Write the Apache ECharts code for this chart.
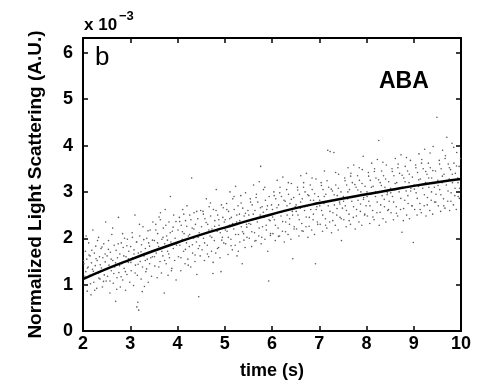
<!DOCTYPE html>
<html>
<head>
<meta charset="utf-8">
<script src="https://cdn.jsdelivr.net/npm/echarts@6/dist/echarts.min.js"></script>
<style>html,body{margin:0;padding:0;background:#fff}#c{width:477px;height:385px}</style>
</head>
<body>
<div id="c"></div>
<script>
// x tick labels (time, s) and y tick labels (x 10^-3)
const xTicks = [2, 3, 4, 5, 6, 7, 8, 9, 10];
const yTicks = [0, 1, 2, 3, 4, 5, 6];

// fitted curve
const fitTime = [2, 2.5, 3, 3.5, 4, 4.5, 5, 5.5, 6, 6.5, 7, 7.5, 8, 8.5, 9, 9.5, 10];
const fitValue = [1.12, 1.34, 1.54, 1.73, 1.91, 2.08, 2.23, 2.38, 2.52, 2.65, 2.76, 2.86, 2.95, 3.04, 3.13, 3.21, 3.28];

const measured = [
[2.02,1.45],[2.03,0.98],[2.05,1.72],[2.06,1.28],[2.08,1.55],[2.09,0.86],[2.11,1.38],[2.12,1.9],[2.14,1.2],[2.15,1.62],[2.17,0.78],[2.18,1.47],[2.2,1.33],[2.21,2.18],[2.23,1.05],[2.24,1.68],[2.26,1.41],[2.27,1.83],[2.29,0.92],[2.3,1.52],[2.32,1.25],[2.33,2.02],[2.35,1.6],[2.36,1.12],[2.38,1.78],[2.39,1.36],[2.41,0.95],[2.42,1.58],[2.44,1.88],[2.45,1.21],[2.47,1.49],[2.48,2.35],[2.49,1.08],
[2.51,1.62],[2.52,1.18],[2.54,1.95],[2.55,1.42],[2.57,0.82],[2.58,1.7],[2.6,1.3],[2.61,2.08],[2.63,1.52],[2.64,1.03],[2.66,1.85],[2.67,1.38],[2.69,0.64],[2.7,1.74],[2.72,1.15],[2.73,1.58],[2.75,2.45],[2.76,1.26],[2.78,1.66],[2.79,0.95],[2.81,1.9],[2.82,1.45],[2.84,1.1],[2.85,1.8],[2.87,1.35],[2.88,2.0],[2.9,0.88],[2.91,1.6],[2.93,1.22],[2.94,1.98],[2.96,1.48],[2.97,1.72],[2.99,1.05],
[3.01,1.82],[3.02,1.3],[3.04,2.12],[3.05,1.58],[3.07,0.98],[3.08,1.75],[3.1,2.5],[3.11,1.42],[3.13,1.92],[3.14,0.52],[3.15,1.2],[3.16,0.62],[3.17,1.68],[3.18,0.45],[3.2,2.05],[3.21,1.5],[3.23,1.12],[3.24,1.86],[3.26,1.38],[3.27,2.25],[3.29,1.62],[3.3,0.96],[3.32,1.78],[3.33,1.28],[3.35,2.0],[3.36,1.55],[3.38,1.05],[3.39,1.9],[3.41,1.45],[3.42,2.18],[3.44,1.7],[3.45,1.18],[3.47,1.6],[3.48,2.35],
[3.51,1.95],[3.52,1.4],[3.54,2.3],[3.55,1.68],[3.57,1.15],[3.58,2.1],[3.6,1.82],[3.61,2.46],[3.63,1.5],[3.64,2.55],[3.66,1.25],[3.67,1.98],[3.69,1.62],[3.7,2.22],[3.72,0.82],[3.73,1.88],[3.74,2.62],[3.76,1.45],[3.77,2.05],[3.79,1.72],[3.8,1.2],[3.82,2.35],[3.83,1.58],[3.85,2.9],[3.86,1.92],[3.88,1.35],[3.89,2.15],[3.91,1.78],[3.92,2.5],[3.94,1.52],[3.95,2.0],[3.97,1.1],[3.98,1.85],
[4.01,2.18],[4.02,1.6],[4.04,2.45],[4.05,1.85],[4.07,1.3],[4.08,2.28],[4.1,1.98],[4.11,2.62],[4.13,1.72],[4.14,2.1],[4.16,1.45],[4.17,2.38],[4.19,1.9],[4.2,2.7],[4.22,1.55],[4.23,2.05],[4.25,1.82],[4.26,2.5],[4.28,1.38],[4.3,3.3],[4.31,2.22],[4.32,1.68],[4.34,2.0],[4.35,2.55],[4.37,1.5],[4.38,2.3],[4.4,1.92],[4.41,1.22],[4.43,2.42],[4.44,1.78],[4.45,0.74],[4.46,2.12],[4.48,1.62],[4.49,2.6],
[4.51,2.25],[4.52,1.75],[4.54,2.58],[4.55,2.0],[4.57,1.52],[4.58,2.42],[4.6,2.12],[4.61,2.85],[4.63,1.85],[4.64,2.3],[4.66,1.6],[4.67,2.68],[4.69,2.05],[4.7,2.48],[4.72,1.72],[4.73,2.2],[4.75,1.24],[4.76,2.62],[4.78,1.95],[4.79,2.38],[4.81,1.68],[4.82,3.05],[4.84,2.15],[4.85,2.5],[4.87,1.8],[4.88,2.28],[4.9,1.58],[4.92,1.28],[4.93,2.72],[4.95,2.02],[4.96,2.45],[4.98,1.9],[4.99,2.35],
[5.01,2.4],[5.02,1.88],[5.04,2.75],[5.05,2.15],[5.07,1.65],[5.08,2.58],[5.1,2.28],[5.11,3.0],[5.13,1.98],[5.14,2.45],[5.16,1.75],[5.17,2.85],[5.19,2.2],[5.2,2.62],[5.22,1.85],[5.23,3.12],[5.25,2.35],[5.26,1.62],[5.28,2.7],[5.29,2.08],[5.31,2.52],[5.32,1.92],[5.34,2.92],[5.35,2.25],[5.37,1.45],[5.38,2.65],[5.4,2.1],[5.41,2.48],[5.43,1.8],[5.44,2.98],[5.46,2.3],[5.47,2.02],[5.49,2.6],
[5.51,2.5],[5.52,2.0],[5.54,2.85],[5.55,2.3],[5.57,1.82],[5.58,2.72],[5.6,2.42],[5.61,3.15],[5.63,2.12],[5.64,2.6],[5.66,1.95],[5.67,2.95],[5.69,2.35],[5.7,2.78],[5.72,2.05],[5.73,3.22],[5.75,2.5],[5.76,3.55],[5.77,1.88],[5.79,2.68],[5.8,2.25],[5.82,3.05],[5.83,2.45],[5.85,1.98],[5.86,2.82],[5.88,2.18],[5.89,2.62],[5.91,1.72],[5.93,1.08],[5.94,2.9],[5.96,2.38],[5.97,2.1],[5.99,2.72],
[6.01,2.62],[6.02,2.1],[6.04,3.0],[6.05,2.4],[6.07,1.95],[6.08,2.85],[6.1,2.55],[6.11,3.25],[6.13,2.22],[6.14,2.72],[6.16,2.05],[6.17,3.1],[6.19,2.48],[6.2,2.9],[6.22,2.15],[6.23,3.32],[6.25,2.6],[6.26,1.92],[6.28,2.8],[6.29,2.35],[6.31,3.05],[6.32,2.5],[6.34,2.08],[6.35,2.95],[6.37,2.3],[6.38,2.75],[6.4,1.98],[6.41,3.18],[6.43,2.58],[6.44,1.56],[6.46,2.88],[6.47,2.25],[6.49,2.68],
[6.51,2.72],[6.52,2.2],[6.54,3.1],[6.55,2.5],[6.57,2.05],[6.58,2.95],[6.6,2.65],[6.61,3.35],[6.63,2.32],[6.64,2.85],[6.66,2.15],[6.67,3.2],[6.69,2.6],[6.7,3.0],[6.72,2.25],[6.73,3.4],[6.75,2.7],[6.76,2.02],[6.78,2.92],[6.79,2.45],[6.81,3.15],[6.82,2.62],[6.84,2.18],[6.85,3.05],[6.87,2.4],[6.88,2.82],[6.9,2.08],[6.92,1.45],[6.93,3.28],[6.95,2.68],[6.96,2.35],[6.98,2.9],
[7.01,2.82],[7.02,2.3],[7.04,3.2],[7.05,2.6],[7.07,2.15],[7.08,3.05],[7.1,2.75],[7.11,3.45],[7.13,2.42],[7.14,2.95],[7.16,2.22],[7.18,3.9],[7.19,2.7],[7.2,3.1],[7.22,2.35],[7.23,3.87],[7.25,2.8],[7.26,2.12],[7.28,3.02],[7.29,2.55],[7.31,3.85],[7.32,2.72],[7.34,2.28],[7.35,3.15],[7.37,2.5],[7.38,2.92],[7.4,2.18],[7.41,3.38],[7.43,2.78],[7.44,2.45],[7.46,3.0],[7.47,1.95],[7.49,2.65],
[7.51,2.9],[7.52,2.4],[7.54,3.3],[7.55,2.7],[7.57,2.25],[7.58,3.15],[7.6,2.85],[7.61,3.52],[7.63,2.52],[7.64,3.05],[7.66,2.3],[7.67,3.4],[7.69,2.8],[7.7,3.2],[7.72,2.45],[7.73,3.58],[7.75,2.9],[7.76,2.2],[7.78,3.1],[7.79,2.62],[7.81,3.35],[7.82,2.82],[7.84,2.35],[7.85,3.25],[7.87,2.58],[7.88,3.0],[7.9,2.28],[7.91,3.48],[7.93,3.77],[7.94,2.88],[7.96,2.5],[7.97,3.12],[7.99,2.7],
[8.01,3.0],[8.02,2.48],[8.04,3.42],[8.05,2.8],[8.07,2.32],[8.08,3.25],[8.1,2.95],[8.11,3.62],[8.13,2.6],[8.14,3.12],[8.16,2.4],[8.17,3.5],[8.19,2.9],[8.2,3.3],[8.22,2.55],[8.23,3.7],[8.25,3.0],[8.26,4.11],[8.27,2.28],[8.29,3.2],[8.3,2.72],[8.32,3.45],[8.33,2.92],[8.35,2.42],[8.36,3.35],[8.38,2.68],[8.39,3.1],[8.41,2.35],[8.42,3.58],[8.44,2.98],[8.45,2.6],[8.47,3.22],[8.48,2.8],
[8.51,3.08],[8.52,2.55],[8.54,3.5],[8.55,2.9],[8.57,2.4],[8.58,3.35],[8.6,3.05],[8.61,3.72],[8.63,2.68],[8.64,3.2],[8.66,2.48],[8.67,3.6],[8.69,3.0],[8.7,3.4],[8.72,2.62],[8.73,3.8],[8.75,2.13],[8.76,3.1],[8.78,2.38],[8.79,3.3],[8.81,2.82],[8.82,3.55],[8.84,3.02],[8.85,2.5],[8.87,3.45],[8.88,2.75],[8.9,3.2],[8.91,2.42],[8.93,3.68],[8.94,3.08],[8.96,2.7],[8.97,3.32],[8.99,1.91],
[9.01,3.15],[9.02,2.62],[9.04,3.58],[9.05,2.98],[9.07,2.5],[9.08,3.42],[9.1,3.12],[9.11,3.82],[9.13,2.75],[9.14,3.28],[9.16,2.55],[9.17,3.7],[9.19,3.08],[9.2,3.5],[9.22,2.7],[9.23,3.92],[9.25,3.2],[9.26,2.48],[9.28,3.38],[9.29,2.88],[9.31,3.62],[9.32,3.1],[9.34,2.6],[9.35,3.52],[9.37,2.82],[9.38,3.3],[9.4,2.52],[9.41,3.98],[9.43,3.18],[9.44,2.78],[9.46,3.45],[9.47,2.95],[9.49,4.61],
[9.51,3.25],[9.52,2.7],[9.54,3.68],[9.55,3.05],[9.57,2.58],[9.58,3.5],[9.6,3.2],[9.61,3.9],[9.63,2.85],[9.64,3.38],[9.66,2.65],[9.67,3.78],[9.69,3.15],[9.7,4.18],[9.72,2.8],[9.73,3.6],[9.75,3.28],[9.76,2.6],[9.78,3.48],[9.79,2.98],[9.81,4.05],[9.82,3.2],[9.84,2.72],[9.85,3.62],[9.87,2.92],[9.88,3.4],[9.9,2.62],[9.91,3.85],[9.93,3.3],[9.94,2.9],[9.96,3.55],[9.97,3.08],[9.99,3.72]
];

// further points between the ones above, also
const measuredExtra = [
[2.013,1.52],[2.041,1.18],[2.067,2.05],[2.094,1.36],[2.126,1.64],[2.158,1.02],[2.187,1.74],[2.219,1.29],[2.247,0.88],[2.276,1.56],[2.308,1.95],[2.337,1.14],[2.366,1.43],[2.401,1.81],[2.434,1.07],[2.468,1.66],
[2.507,1.33],[2.538,1.76],[2.571,1.08],[2.596,1.55],[2.628,2.22],[2.652,1.24],[2.689,1.47],[2.713,0.9],[2.744,1.88],[2.773,1.41],[2.806,1.17],[2.838,2.1],[2.864,1.62],[2.897,1.28],[2.929,1.84],[2.962,1.56],
[3.014,1.48],[3.046,2.02],[3.078,1.66],[3.103,1.25],[3.138,1.92],[3.166,1.44],[3.196,2.3],[3.227,1.71],[3.254,0.85],[3.286,1.97],[3.318,1.52],[3.347,1.34],[3.376,2.16],[3.408,1.83],[3.436,1.58],[3.471,1.96],
[3.513,1.6],[3.542,2.18],[3.578,1.9],[3.604,1.38],[3.636,2.4],[3.668,1.72],[3.694,2.02],[3.728,1.52],[3.753,2.28],[3.787,1.96],[3.814,1.66],[3.846,2.12],[3.872,1.3],[3.907,2.24],[3.935,1.88],[3.968,2.36],
[4.012,1.92],[4.046,2.36],[4.073,1.58],[4.104,2.14],[4.133,2.52],[4.168,1.76],[4.196,2.26],[4.227,1.42],[4.256,2.08],[4.284,2.4],[4.316,1.86],[4.347,2.2],[4.372,1.64],[4.408,2.58],[4.436,2.02],[4.467,1.84],
[4.514,2.08],[4.547,2.52],[4.574,1.9],[4.606,2.34],[4.633,1.66],[4.664,2.18],[4.697,2.76],[4.726,2.02],[4.754,1.48],[4.787,2.26],[4.816,2.6],[4.846,1.78],[4.874,2.4],[4.906,2.12],[4.937,1.96],[4.968,2.66],
[5.013,2.18],[5.044,2.62],[5.076,2.02],[5.106,2.42],[5.134,1.84],[5.166,2.32],[5.197,2.9],[5.228,2.08],[5.256,2.5],[5.287,1.72],[5.318,2.38],[5.346,2.76],[5.377,2.14],[5.406,1.96],[5.438,2.54],[5.467,2.24],
[5.512,2.32],[5.546,2.78],[5.573,2.14],[5.604,2.52],[5.636,1.94],[5.663,2.88],[5.694,2.44],[5.727,2.22],[5.756,2.66],[5.784,2.02],[5.816,2.56],[5.847,3.1],[5.876,2.28],[5.904,2.7],[5.937,2.4],[5.966,2.06],
[6.014,2.46],[6.046,2.92],[6.072,2.28],[6.104,2.66],[6.137,2.04],[6.164,2.98],[6.196,2.56],[6.226,2.36],[6.254,2.82],[6.286,2.14],[6.317,2.7],[6.346,3.2],[6.374,2.42],[6.408,2.84],[6.436,2.5],[6.467,2.2],
[6.513,2.58],[6.544,3.04],[6.576,2.4],[6.607,2.78],[6.634,2.16],[6.667,3.1],[6.697,2.68],[6.724,2.46],[6.756,2.94],[6.786,2.26],[6.814,2.82],[6.848,3.3],[6.876,2.52],[6.903,2.96],[6.936,2.62],[6.967,2.3],
[7.012,2.7],[7.046,3.14],[7.074,2.5],[7.106,2.9],[7.134,2.28],[7.166,3.24],[7.196,2.8],[7.227,2.58],[7.254,3.06],[7.287,2.38],[7.316,2.94],[7.347,3.42],[7.376,2.64],[7.404,3.08],[7.437,2.74],[7.466,2.42],
[7.514,2.8],[7.545,3.24],[7.576,2.6],[7.606,3.0],[7.633,2.38],[7.664,3.34],[7.697,2.9],[7.726,2.68],[7.754,3.16],[7.786,2.48],[7.817,3.04],[7.846,3.52],[7.874,2.74],[7.906,3.18],[7.936,2.84],[7.964,2.52],
[8.013,2.9],[8.046,3.34],[8.074,2.7],[8.104,3.1],[8.136,2.46],[8.166,3.44],[8.194,3.0],[8.226,2.78],[8.256,3.26],[8.287,2.56],[8.314,3.14],[8.347,3.64],[8.376,2.84],[8.404,3.28],[8.436,2.94],[8.466,2.62],
[8.514,2.98],[8.546,3.44],[8.574,2.78],[8.606,3.18],[8.634,2.54],[8.664,3.52],[8.696,3.08],[8.727,2.86],[8.754,3.36],[8.786,2.64],[8.816,3.22],[8.846,3.74],[8.876,2.92],[8.904,3.38],[8.936,3.02],[8.966,2.7],
[9.014,3.06],[9.046,3.52],[9.074,2.86],[9.106,3.26],[9.136,2.62],[9.164,3.62],[9.196,3.16],[9.226,2.94],[9.254,3.44],[9.286,2.72],[9.316,3.3],[9.346,3.84],[9.376,3.0],[9.404,3.46],[9.436,3.1],[9.466,2.78],
[9.514,3.14],[9.546,3.6],[9.574,2.94],[9.606,3.34],[9.636,2.7],[9.664,3.72],[9.694,3.24],[9.726,3.02],[9.754,3.52],[9.786,2.8],[9.816,3.38],[9.846,3.96],[9.874,3.08],[9.904,3.56],[9.936,3.2],[9.966,2.86]
];

const FONT = '"Liberation Sans", Arial, Helvetica, sans-serif';
const fitData = fitTime.map((t, i) => [t, fitValue[i]]);
const allPoints = measured.concat(measuredExtra);

const chart = echarts.init(document.getElementById('c'), null, {renderer: 'canvas'});
const axisLineStyle = {color: '#000', width: 2};
const tickStyle = {color: '#000', width: 1.5};
const baseX = {
  type: 'value', min: xTicks[0], max: xTicks[xTicks.length - 1], interval: 1,
  splitLine: {show: false},
  axisLine: {show: true, onZero: false, lineStyle: axisLineStyle},
  axisTick: {show: true, inside: true, length: 5, lineStyle: tickStyle}
};
const baseY = {
  type: 'value', min: yTicks[0], max: 6.32, interval: 1,
  splitLine: {show: false},
  axisLine: {show: true, onZero: false, lineStyle: axisLineStyle},
  axisTick: {show: true, inside: true, length: 5, lineStyle: tickStyle}
};
chart.setOption({
  animation: false,
  backgroundColor: '#fff',
  grid: {left: 83, right: 16, top: 38, bottom: 49, containLabel: false},
  xAxis: [
    Object.assign({}, baseX, {
      position: 'bottom',
      name: 'time (s)', nameLocation: 'middle', nameGap: 31,
      nameTextStyle: {fontFamily: FONT, fontSize: 18, fontWeight: 'bold', color: '#000'},
      axisLabel: {show: true, margin: 4, fontFamily: FONT, fontSize: 18, fontWeight: 'bold', color: '#000',
        formatter: v => xTicks.indexOf(v) >= 0 ? String(v) : ''}
    }),
    Object.assign({}, baseX, {position: 'top', axisLabel: {show: false}})
  ],
  yAxis: [
    Object.assign({}, baseY, {
      position: 'left',
      name: 'Normalized Light Scattering (A.U.)', nameLocation: 'middle', nameGap: 38,
      nameTextStyle: {fontFamily: FONT, fontSize: 19, fontWeight: 'bold', color: '#000'},
      axisLabel: {show: true, margin: 10, fontFamily: FONT, fontSize: 18, fontWeight: 'bold', color: '#000',
        formatter: v => yTicks.indexOf(v) >= 0 ? String(v) : ''}
    }),
    Object.assign({}, baseY, {position: 'right', axisLabel: {show: false}})
  ],
  graphic: [
    {type: 'text', left: 84, top: 17, style: {text: 'x 10', font: 'bold 17px ' + FONT, fill: '#000'}},
    {type: 'text', left: 119, top: 10, style: {text: '\u22123', font: 'bold 13px ' + FONT, fill: '#000'}},
    {type: 'text', left: 95, top: 45, style: {text: 'b', font: '26px ' + FONT, fill: '#000'}},
    {type: 'text', left: 379, top: 70, style: {text: 'ABA', font: 'bold 23px ' + FONT, fill: '#000'}}
  ],
  series: [
    {
      type: 'scatter', data: allPoints, symbol: 'circle', symbolSize: 1.6,
      itemStyle: {color: '#5a5a5a', opacity: 1}, silent: true, z: 2, large: false
    },
    {
      type: 'line', data: fitData, smooth: true, showSymbol: false, symbol: 'none',
      lineStyle: {color: '#000', width: 2.5}, silent: true, z: 3
    }
  ]
});
</script>
</body>
</html>
